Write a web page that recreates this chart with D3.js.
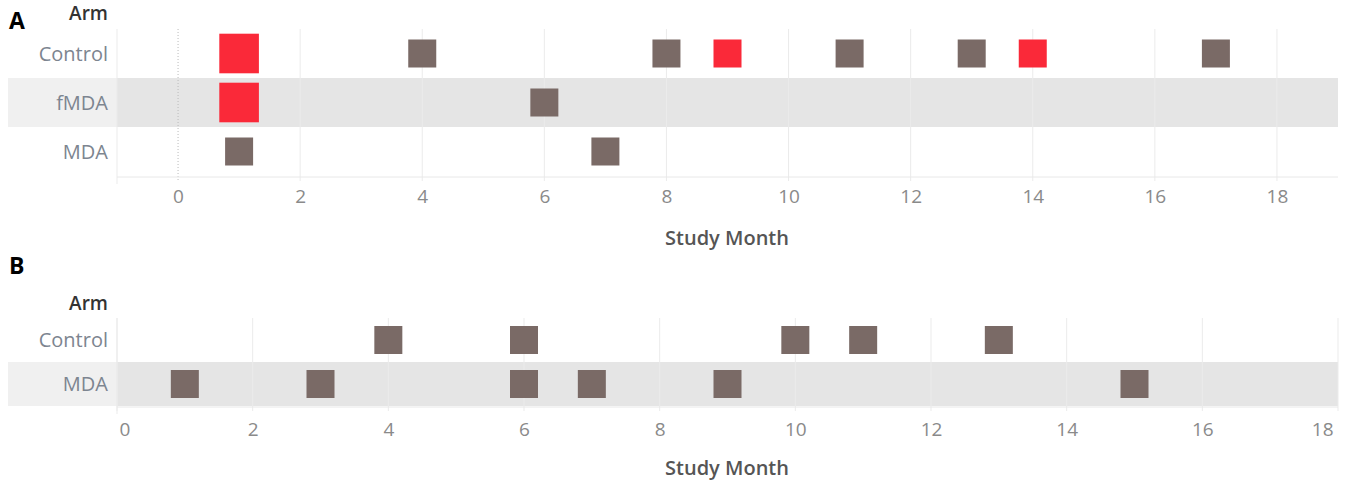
<!DOCTYPE html>
<html>
<head>
<meta charset="utf-8">
<script src="https://cdn.jsdelivr.net/npm/d3@7"></script>
<style>
  body { margin: 0; background: #fff; }
  text { font-family: "Open Sans", Lato, sans-serif; }
</style>
</head>
<body>
<script>
// panel A data
const armsA = ["Control", "fMDA", "MDA"];
const monthsA = [1, 4, 8, 9, 11, 13, 14, 17, 1, 6, 1, 7];
const armOfA = ["Control", "Control", "Control", "Control", "Control", "Control", "Control", "Control", "fMDA", "fMDA", "MDA", "MDA"];
const positiveA = [1, 0, 0, 1, 0, 0, 1, 0, 1, 0, 0, 0];
const countA = [2, 1, 1, 1, 1, 1, 1, 1, 2, 1, 1, 1];

// panel B data
const armsB = ["Control", "MDA"];
const monthsB = [4, 6, 10, 11, 13, 1, 3, 6, 7, 9, 15];
const armOfB = ["Control", "Control", "Control", "Control", "Control", "MDA", "MDA", "MDA", "MDA", "MDA", "MDA"];
const positiveB = [0, 0, 0, 0, 0, 0, 0, 0, 0, 0, 0];
const countB = [1, 1, 1, 1, 1, 1, 1, 1, 1, 1, 1];

const tickValues = [0, 2, 4, 6, 8, 10, 12, 14, 16, 18];

const W = 1349, H = 482;
const svg = d3.select("body").append("svg")
  .attr("width", W)
  .attr("height", H);

const size = d3.scaleSqrt().domain([0, 1]).range([0, 28]);
const colour = d => d ? "#fa2939" : "#7a6a66";

function panel(opt) {
  const g = svg.append("g");
  const x = d3.scaleLinear().domain(opt.domain).range([117, 1338]);
  const y = d3.scaleBand().domain(opt.arms).range([opt.top, opt.top + opt.rowH * opt.arms.length]);
  const bottom = y.range()[1];

  // banded rows
  opt.arms.forEach((a, i) => {
    if (i % 2 === 1) {
      g.append("rect").attr("x", 8).attr("y", y(a)).attr("width", 109).attr("height", y.bandwidth()).attr("fill", "#f0f0f0");
      g.append("rect").attr("x", 117).attr("y", y(a)).attr("width", 1221).attr("height", y.bandwidth()).attr("fill", "#e5e5e5");
    }
  });

  // vertical grid
  g.selectAll(".grid").data(tickValues).enter().append("line")
    .attr("x1", d => x(d)).attr("x2", d => x(d))
    .attr("y1", opt.top).attr("y2", bottom + 5)
    .attr("stroke", d => d === 0 && opt.domain[0] < 0 ? "#bbb" : "#ebebeb")
    .attr("stroke-width", 1)
    .attr("stroke-dasharray", d => d === 0 && opt.domain[0] < 0 ? "1,2" : null);

  // left edge + bottom line
  g.append("line").attr("x1", 117).attr("x2", 117).attr("y1", opt.top).attr("y2", bottom + 8).attr("stroke", "#ebebeb");
  g.append("line").attr("x1", 117).attr("x2", 1338).attr("y1", bottom + 1).attr("y2", bottom + 1).attr("stroke", "#e8e8e8");

  // marks
  const pts = opt.months.map((m, i) => ({ m: m, arm: opt.armOf[i], pos: opt.positive[i], n: opt.count[i] }));
  g.selectAll(".mark").data(pts).enter().append("rect")
    .attr("x", d => x(d.m) - size(d.n) / 2)
    .attr("y", d => y(d.arm) + y.bandwidth() / 2 - size(d.n) / 2)
    .attr("width", d => size(d.n))
    .attr("height", d => size(d.n))
    .attr("fill", d => colour(d.pos));

  // row labels
  g.selectAll(".lab").data(opt.arms).enter().append("text")
    .attr("x", 108).attr("y", d => y(d) + y.bandwidth() / 2 + 7)
    .attr("text-anchor", "end")
    .attr("font-size", 20)
    .attr("fill", "#7d8590")
    .text(d => d);

  g.append("text").attr("x", 108).attr("y", opt.armY).attr("text-anchor", "end")
    .attr("font-size", 19).attr("font-weight", 600).attr("fill", "#333").text("Arm");

  g.append("text").attr("x", 9).attr("y", opt.letterY)
    .attr("font-family", "Liberation Sans, Arial, sans-serif")
    .attr("font-size", 23).attr("font-weight", 700).attr("fill", "#000").text(opt.letter);

  // x axis
  const ax = g.append("g").attr("transform", "translate(0," + (bottom + 1) + ")")
    .call(d3.axisBottom(x).tickValues(tickValues).tickSize(0).tickPadding(opt.pad));
  ax.select(".domain").remove();
  ax.selectAll("text")
    .attr("font-family", "Lato, sans-serif")
    .attr("font-size", 19)
    .attr("fill", "#8a8a8a");
  if (opt.domain[0] === 0) {
    ax.selectAll("text").filter(d => d === 0).attr("text-anchor", "start").attr("dx", 2);
    ax.selectAll("text").filter(d => d === 18).attr("text-anchor", "end").attr("dx", -5);
  }

  g.append("text").attr("x", 727).attr("y", opt.titleY).attr("text-anchor", "middle")
    .attr("font-size", 20).attr("font-weight", 600).attr("fill", "#555").text("Study Month");
}

panel({ arms: armsA, months: monthsA, armOf: armOfA, positive: positiveA, count: countA,
  domain: [-1, 19], top: 29, rowH: 49, pad: 13, armY: 20, letter: "A", letterY: 29, titleY: 245 });

panel({ arms: armsB, months: monthsB, armOf: armOfB, positive: positiveB, count: countB,
  domain: [0, 18], top: 318, rowH: 44, pad: 16, armY: 310, letter: "B", letterY: 274, titleY: 475 });
</script>
</body>
</html>
